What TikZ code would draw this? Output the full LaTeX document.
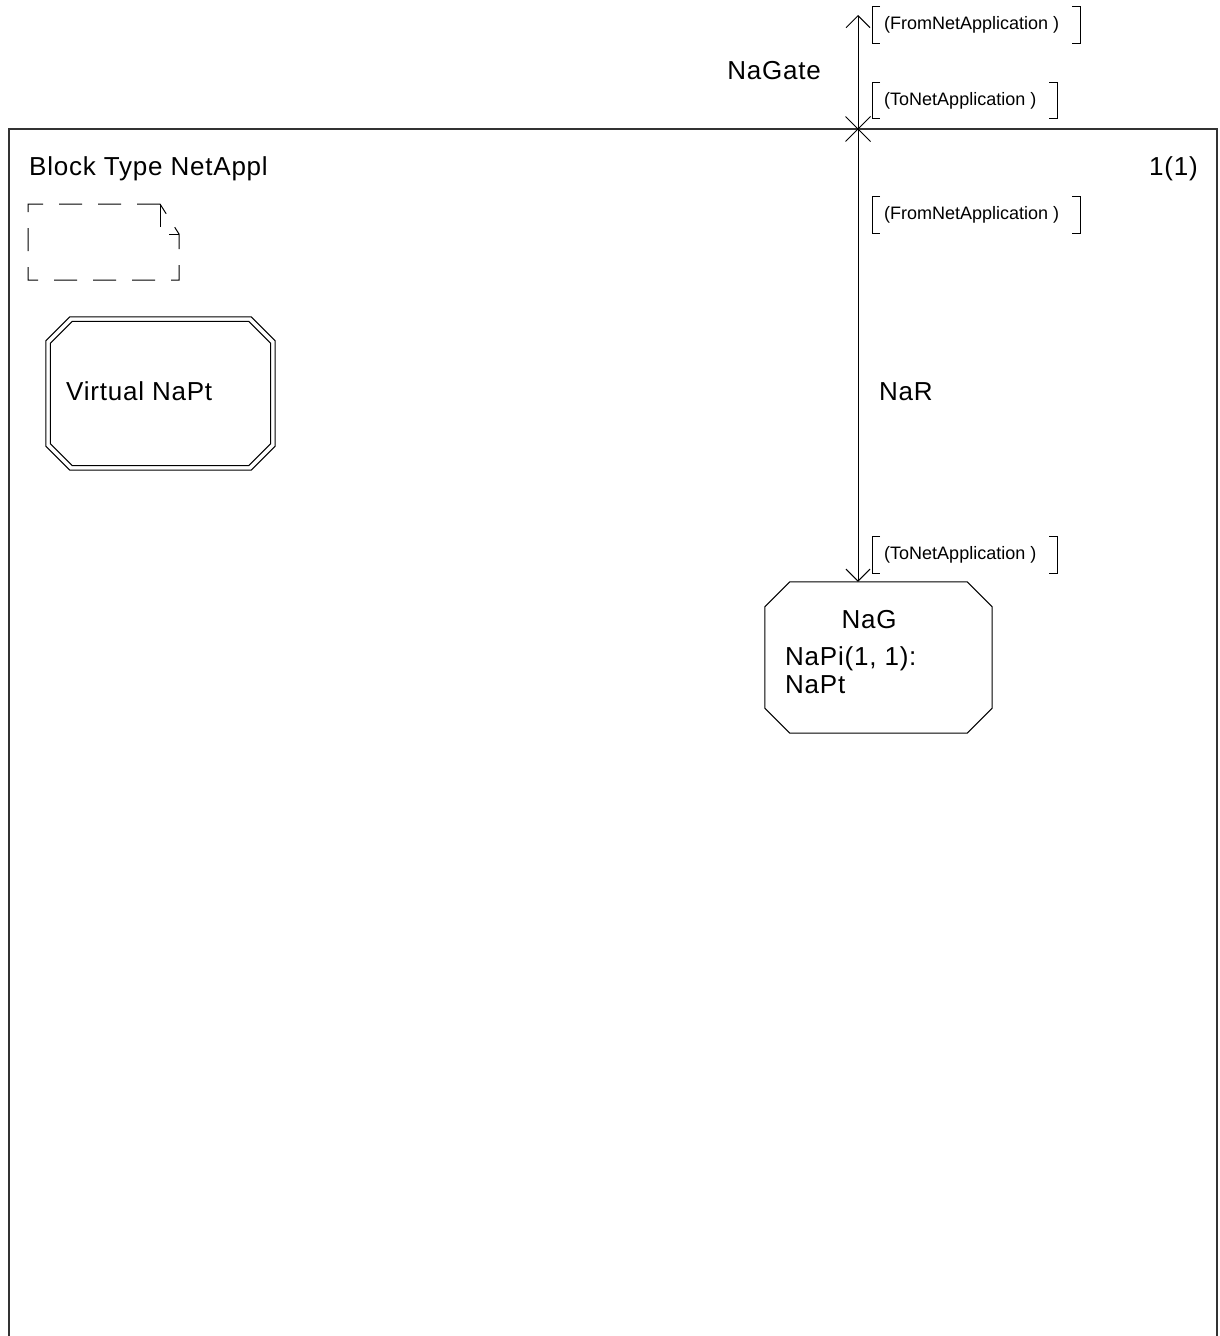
\documentclass[tikz,border=0pt]{standalone}
\usepackage{fontspec}
\setmainfont{Liberation Sans}
\newfontfamily\widesans[LetterSpace=3]{Liberation Sans}
\usetikzlibrary{arrows.meta,calc,shapes.misc}

\tikzset{
  diag/.style={line width=1pt, black},
  frameline/.style={line width=1.3pt, black!80},
  lbl/.style={font=\widesans\fontsize{26}{30}\selectfont, inner sep=0},
  sig/.style={font=\fontsize{18}{22}\selectfont, inner sep=0, minimum height=36pt, anchor=west},
  bracket/.style={line width=0.9pt},
  chan/.style={line width=1pt, {Straight Barb[length=12pt,width=24pt]}-{Straight Barb[length=12pt,width=24pt]}},
  notebox/.style={line width=1pt, dash pattern=on 23pt off 16pt},
}

% octagon drawn inside node #1, inset #2, corner cut #3
\newcommand\drawoctagon[3]{%
  \draw[diag] ($(#1.north west)+(#3+#2,#2)$) -- ($(#1.north east)+(-#3-#2,#2)$)
    -- ($(#1.north east)+(-#2,#3+#2)$) -- ($(#1.south east)+(-#2,-#3-#2)$)
    -- ($(#1.south east)+(-#3-#2,-#2)$) -- ($(#1.south west)+(#3+#2,-#2)$)
    -- ($(#1.south west)+(#2,-#3-#2)$) -- ($(#1.north west)+(#2,#3+#2)$) -- cycle;}

% signal list in square brackets
\newcommand\siglabel[3]{%
  \node[sig] (#1) at (#2) {\hspace*{12pt}#3\hspace*{21pt}};
  \draw[bracket] ($(#1.north west)+(8,0)$) -- (#1.north west) -- (#1.south west) -- ($(#1.south west)+(8,0)$);
  \draw[bracket] ($(#1.north east)+(-8,0)$) -- (#1.north east) -- (#1.south east) -- ($(#1.south east)+(-8,0)$);}

\begin{document}
\begin{tikzpicture}[x=1pt, y=-1pt]
  \useasboundingbox (0,0) rectangle (1219,1336);
  \fill[white] (0,0) rectangle (1219,1336);

  % block frame
  \draw[frameline] (9,1345) -- (9,129) -- (1217,129) -- (1217,1345);
  \node[lbl, anchor=base west] (title) at (29,175) {Block Type NetAppl};
  \node[lbl, anchor=base east] (page) at (1198,175) {1(1)};

  % gate on the frame
  \node (gate) [cross out, draw, line width=1pt, minimum size=24pt, inner sep=0] at (858,129) {};
  \coordinate (gtip) at (858,15);
  \node[lbl, anchor=base] (gname) at (774,79) {NaGate};
  \siglabel{gout}{872,25}{(FromNetApplication )}
  \siglabel{gin}{872,100.5}{(ToNetApplication )}

  % text extension symbol
  \draw[notebox] (160,204) -- (28,204) -- (28,280) -- (179,280) -- (179,234) -- cycle;
  \draw[notebox] (160,204) -- (160,234) -- (179,234);

  % virtual process type
  \node (vpt) [minimum width=229pt, minimum height=153pt, inner sep=0] at (160.5,393.5) {};
  \drawoctagon{vpt}{0}{24}
  \drawoctagon{vpt}{4.5}{22}
  \node[lbl, anchor=base west] (vtext) at (66,400) {Virtual NaPt};

  % process set NaG
  \node (nag) [minimum width=227pt, minimum height=151pt, inner sep=0] at (878.5,657.5) {};
  \drawoctagon{nag}{0}{25}
  \node[lbl, anchor=base] (nagname) at (869,628) {NaG};
  \node[lbl, anchor=base west] (nagi) at (785,665) {NaPi(1, 1):};
  \node[lbl, anchor=base west] (nagt) at (785,693) {NaPt};

  % signal route NaR
  \draw[chan] (gtip) -- (gtip |- nag.north);
  \node[lbl, anchor=base west] (rname) at (879,400) {NaR};
  \siglabel{rout}{872,215}{(FromNetApplication )}
  \siglabel{rin}{872,555}{(ToNetApplication )}
\end{tikzpicture}
\end{document}
